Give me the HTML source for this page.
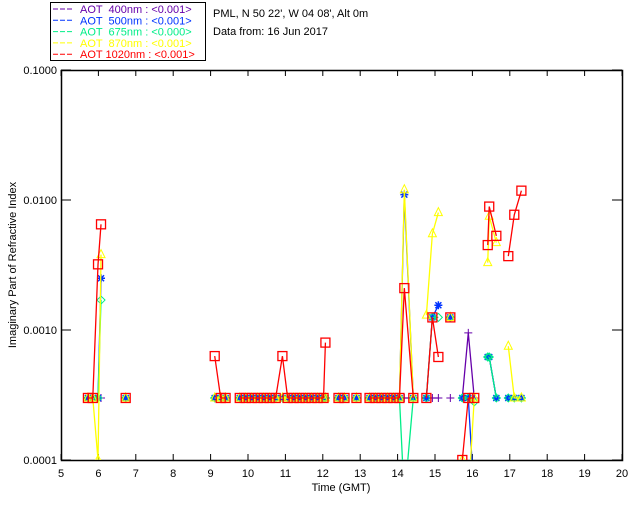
<!DOCTYPE html>
<html><head><meta charset="utf-8">
<style>
html,body{margin:0;padding:0;background:#fff;}
body{width:640px;height:512px;overflow:hidden;font-family:"Liberation Sans",sans-serif;}
svg text{font-family:"Liberation Sans",sans-serif;font-size:11px;}
</style></head>
<body>
<svg id="chart" width="640" height="512" viewBox="0 0 640 512">
  <g>
    <rect x="50.5" y="2.5" width="155" height="58" fill="#fff" stroke="#000"/>
  </g>
  <text x="213" y="17" fill="#000">PML, N 50 22', W 04 08', Alt 0m</text>
  <text x="213" y="35" fill="#000">Data from: 16 Jun 2017</text>
  <g id="plot"></g>
  <text x="341" y="491" text-anchor="middle" fill="#000">Time (GMT)</text>
  <text x="0" y="0" transform="translate(16,265) rotate(-90)" text-anchor="middle" fill="#000">Imaginary Part of Refractive Index</text>
</svg>
<script>
const times = [5.72,5.85,5.99,6.07,6.73,9.11,9.27,9.4,9.78,9.94,10.1,10.26,10.42,10.58,10.74,10.92,11.06,11.22,11.38,11.54,11.7,11.86,12.02,12.07,12.42,12.58,12.9,13.25,13.41,13.57,13.73,13.89,14.05,14.18,14.42,14.77,14.93,15.09,15.41,15.73,15.89,16.05,16.41,16.45,16.64,16.96,17.12,17.31];
const B = 0.0003;
const purpleVals = [B,B,B,B,B,B,B,B,B,B,B,B,B,B,B,B,B,B,B,B,B,B,B,B,B,B,B,B,B,B,B,B,B,B,B,B,B,B,B,B,0.00095,B,0.00062,0.00062,B,B,B,B];
const blueVals   = [B,B,B,0.0025,B,B,B,B,B,B,B,B,B,B,B,B,B,B,B,B,B,B,B,B,B,B,B,B,B,B,B,B,B,0.011,B,B,0.00125,0.00155,0.00125,B,B,0.00005,0.00062,0.00062,B,B,B,B];
const greenVals  = [B,B,B,0.0017,B,B,B,B,B,B,B,B,B,B,B,B,B,B,B,B,B,B,B,B,B,B,B,B,B,B,B,B,B,0.00005,B,B,0.00125,0.00125,0.00125,B,B,0.00028,0.00062,0.00062,B,B,B,B];
const yellowVals = [B,B,0.0001,0.0038,B,B,B,B,B,B,B,B,B,B,B,B,B,B,B,B,B,B,B,B,B,B,B,B,B,B,B,B,B,0.012,B,0.0013,0.0055,0.008,0.00125,0.0001,0.00005,B,0.0033,0.0075,0.0047,0.00075,B,B];
const redVals    = [B,B,0.0032,0.0065,B,0.00063,B,B,B,B,B,B,B,B,B,0.00063,B,B,B,B,B,B,B,0.0008,B,B,B,B,B,B,B,B,B,0.0021,B,B,0.00125,0.00062,0.00125,0.0001,B,B,0.0045,0.0089,0.0053,0.0037,0.0077,0.0118];
const xTicks = [5,6,7,8,9,10,11,12,13,14,15,16,17,18,19,20];
const yTicks = [0.0001,0.001,0.01,0.1];
const yTickLabels = ["0.0001","0.0010","0.0100","0.1000"];
const legendLabels = ["AOT  400nm : <0.001>","AOT  500nm : <0.001>","AOT  675nm : <0.000>","AOT  870nm : <0.001>","AOT 1020nm : <0.001>"];

const NS = "http://www.w3.org/2000/svg";
const L = 61, R = 622, T = 70, Bt = 460;
function xs(t){ return L + (t - 5) * (R - L) / 15; }
function ys(v){ return Bt - (Math.log10(v) + 4) * (Bt - T) / 3; }
const plot = document.getElementById('plot');
const svg = document.getElementById('chart');
function mk(tag, attrs, parent){ const e = document.createElementNS(NS, tag); for (const k in attrs) e.setAttribute(k, attrs[k]); (parent||plot).appendChild(e); return e; }

const defs = mk('defs', {}, svg);
const cp = mk('clipPath', {id:'clip'}, defs);
mk('rect', {x:L, y:T, width:R-L, height:Bt-T}, cp);

// axes frame
const frame = mk('rect', {x:L+0.5, y:T+0.5, width:R-L, height:Bt-T, fill:'none', stroke:'#000', 'stroke-width':1.5});



xTicks.forEach(t => {
  const x = xs(t);
  const tk = mk('path', {d:`M${x} ${Bt}V${Bt-6}M${x} ${T}V${T+6}`, stroke:'#000', 'stroke-width':1});
  
  
  const lb = mk('text', {x:x, y:Bt+17, 'text-anchor':'middle', fill:'#000'});
  lb.textContent = t;
  
  
});
yTicks.forEach((v, i) => {
  const y = ys(v);
  const tk = mk('path', {d:`M${L} ${y}H${L+10}M${R} ${y}H${R-10}`, stroke:'#000', 'stroke-width':1});
  
  
  const lb = mk('text', {x:L-4, y:y+4, 'text-anchor':'end', fill:'#000'});
  lb.textContent = yTickLabels[i];
  
  
});

const series = [
  {name:'aot-400nm', color:'#6600aa', vals:purpleVals, marker:'plus'},
  {name:'aot-500nm', color:'#0033ff', vals:blueVals, marker:'star'},
  {name:'aot-675nm', color:'#00ee88', vals:greenVals, marker:'diamond'},
  {name:'aot-870nm', color:'#ffff00', vals:yellowVals, marker:'triangle'},
  {name:'aot-1020nm', color:'#ff0000', vals:redVals, marker:'square'}
];
const legColors = ['#6600aa','#0033ff','#00ee88','#ffff00','#ff0000'];
legendLabels.forEach((s, i) => {
  const y = 13 + i * 11.3;
  const ln = mk('line', {x1:53, x2:74, y1:y-4, y2:y-4, stroke:legColors[i], 'stroke-dasharray':'5,2'}, svg);
  
  
  const tx = mk('text', {x:80, y:y, fill:legColors[i], 'xml:space':'preserve', style:'white-space:pre'}, svg);
  tx.textContent = s;
  
  
});

function marker(g, type, x, y, c){
  let m;
  if (type === 'plus') m = mk('path', {d:`M${x-4} ${y}H${x+4}M${x} ${y-4}V${y+4}`, stroke:c, fill:'none'}, g);
  else if (type === 'star') m = mk('path', {d:`M${x-4} ${y}H${x+4}M${x} ${y-4}V${y+4}M${x-3} ${y-3}L${x+3} ${y+3}M${x-3} ${y+3}L${x+3} ${y-3}`, stroke:c, 'stroke-width':1.5, fill:'none'}, g);
  else if (type === 'diamond') m = mk('path', {d:`M${x} ${y-4}L${x+4} ${y}L${x} ${y+4}L${x-4} ${y}Z`, stroke:c, fill:'none'}, g);
  else if (type === 'triangle') m = mk('path', {d:`M${x} ${y-5}L${x+4} ${y+3}L${x-4} ${y+3}Z`, stroke:c, fill:'none'}, g);
  else m = mk('rect', {x:x-4.5, y:y-4.5, width:9, height:9, stroke:c, 'stroke-width':1.3, fill:'none'}, g);
  
  
}

series.forEach(s => {
  const g = mk('g', {'clip-path':'url(#clip)'});
  
  
  let d = '';
  for (let i = 1; i < times.length; i++) {
    if (times[i] - times[i-1] <= 0.25) {
      d += `M${xs(times[i-1])} ${ys(s.vals[i-1])}L${xs(times[i])} ${ys(s.vals[i])}`;
    }
  }
  const p = mk('path', {d:d, stroke:s.color, fill:'none', 'stroke-width':1.3}, g);
  
  
  times.forEach((t, i) => {
    const v = s.vals[i];
    if (v >= 0.0001) marker(g, s.marker, xs(t), ys(v), s.color);
  });
});
</script>
</body></html>
